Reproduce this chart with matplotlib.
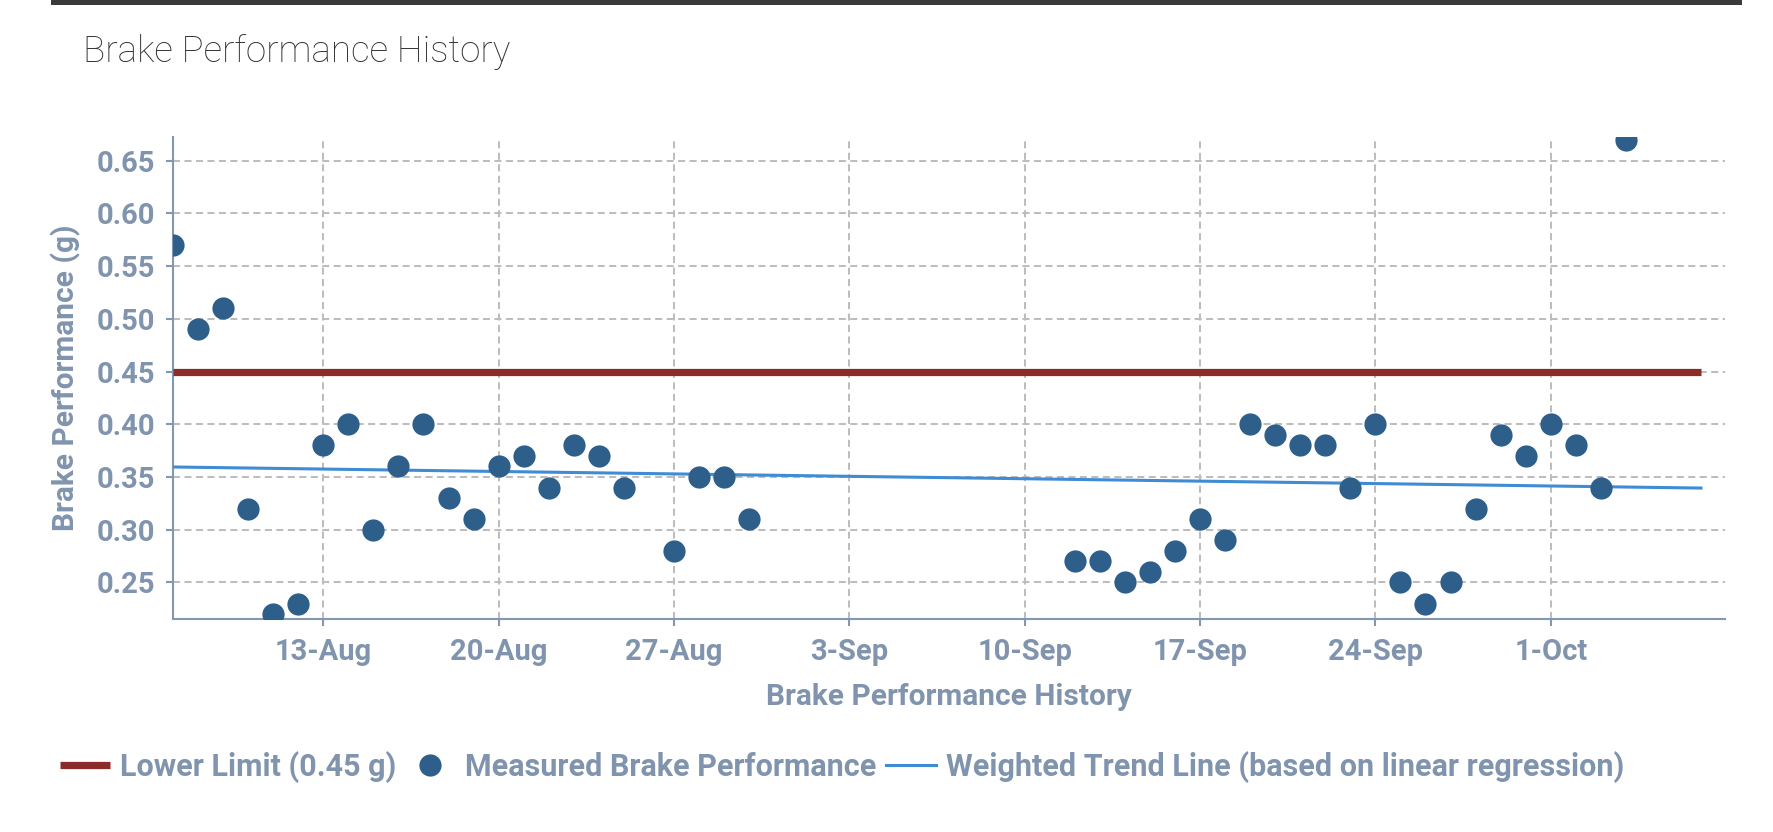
import matplotlib
matplotlib.use('Agg')
import matplotlib.pyplot as plt
import matplotlib.dates as mdates
from matplotlib.ticker import FuncFormatter, MultipleLocator
from matplotlib.lines import Line2D
from matplotlib.patches import Rectangle
import pandas as pd

# data
start_day = '2018-08-07'
offsets = [0, 1, 2, 3, 4, 5, 6, 7, 8, 9, 10, 11, 12, 13, 14, 15, 16, 17, 18,
           20, 21, 22, 23,
           36, 37, 38, 39, 40, 41, 42, 43, 44, 45, 46, 47, 48, 49, 50, 51,
           52, 53, 54, 55, 56, 57, 58]
brake = [0.57, 0.49, 0.51, 0.32, 0.22, 0.23, 0.38, 0.40, 0.30, 0.36, 0.40,
         0.33, 0.31, 0.36, 0.37, 0.34, 0.38, 0.37, 0.34,
         0.28, 0.35, 0.35, 0.31,
         0.27, 0.27, 0.25, 0.26, 0.28, 0.31, 0.29, 0.40, 0.39, 0.38, 0.38,
         0.34, 0.40, 0.25, 0.23, 0.25, 0.32, 0.39, 0.37, 0.40, 0.38, 0.34,
         0.67]
limit_dates = ['2018-08-07', '2018-10-07']
limit_vals = [0.45, 0.45]
trend_dates = ['2018-08-07', '2018-10-07']
trend_vals = [0.3595, 0.3395]

dates = pd.Timestamp(start_day) + pd.to_timedelta(offsets, unit='D')

W, H = 1774, 832
fig = plt.figure(figsize=(W / 100, H / 100), dpi=100)
plt.rcParams['font.family'] = ['Roboto', 'DejaVu Sans']

ax = fig.add_axes([173 / W, 1 - 619 / H, (1725 - 173) / W, (619 - 137) / H])

lab_col = '#8094AE'
spine_col = '#8497B0'
red = '#8B2B2A'
dot = '#2E5E8A'
blue = '#3F8BD4'

ax.plot(pd.to_datetime(limit_dates), limit_vals, color=red, lw=5.2, zorder=3,
        solid_capstyle='butt')
ax.plot(dates, brake, 'o', color=dot, ms=16, mec='none', zorder=4)
ax.plot(pd.to_datetime(trend_dates), trend_vals, color=blue, lw=2.2, zorder=3)

ax.set_xlim(pd.Timestamp('2018-08-07'), pd.Timestamp('2018-10-07 23:00'))
ax.set_ylim(0.2153, 0.6725)

ax.yaxis.set_major_locator(MultipleLocator(0.05))
ax.yaxis.set_major_formatter(FuncFormatter(lambda v, p: '%.2f' % v))
ax.xaxis.set_major_locator(mdates.WeekdayLocator(byweekday=mdates.MO))
ax.xaxis.set_major_formatter(
    FuncFormatter(lambda v, p: '%d-%s' % (mdates.num2date(v).day,
                                          mdates.num2date(v).strftime('%b'))))

ax.grid(True, color='#BDBDBD', lw=1.45, linestyle=(0, (3.5, 2.2)), zorder=0)
ax.set_axisbelow(True)

for s in ['top', 'right']:
    ax.spines[s].set_visible(False)
for s in ['left', 'bottom']:
    ax.spines[s].set_color(spine_col)
    ax.spines[s].set_linewidth(1.5)

ax.tick_params(axis='both', colors=spine_col, length=5, width=1.5,
               labelcolor=lab_col, labelsize=21)
ax.tick_params(axis='y', pad=8)
ax.tick_params(axis='x', pad=9)
for t in ax.get_xticklabels() + ax.get_yticklabels():
    t.set_fontweight('bold')

ax.set_ylabel('Brake Performance (g)', color=lab_col, fontsize=21.5,
              fontweight='bold', labelpad=11)
ax.set_xlabel('Brake Performance History', color=lab_col, fontsize=21.5,
              fontweight='bold', labelpad=12)

# title and top rule
fig.text(83 / W, 1 - 62 / H, 'Brake Performance History', fontsize=26.5,
         fontweight='light', color='#333333', ha='left', va='baseline')
fig.add_artist(Rectangle((51 / W, 1 - 4.6 / H), (1742 - 51) / W, 4.6 / H,
                         transform=fig.transFigure, color='#3A3A3A', lw=0))

handles = [Line2D([], [], color=red, lw=5.2, solid_capstyle='butt'),
           Line2D([], [], marker='o', ls='none', color=dot, ms=16, mec='none'),
           Line2D([], [], color=blue, lw=2.2)]
labels = ['Lower Limit (0.45 g)', 'Measured Brake Performance',
          'Weighted Trend Line (based on linear regression)']
leg = fig.legend(handles, labels, loc='center left',
                 bbox_to_anchor=(60 / W, 1 - 767 / H), ncol=3, frameon=False,
                 fontsize=22, handlelength=1.64, handletextpad=0.32,
                 columnspacing=0.3, borderpad=0, borderaxespad=0)
for t in leg.get_texts():
    t.set_color(lab_col)
    t.set_fontweight('bold')

fig.savefig('out.png', dpi=100)
